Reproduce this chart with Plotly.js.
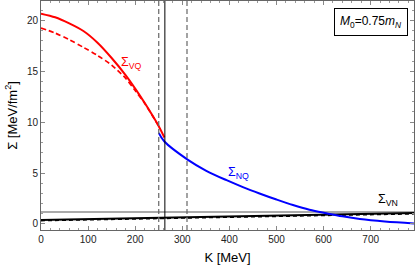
<!DOCTYPE html>
<html>
<head>
<meta charset="utf-8">
<script src="https://cdn.plot.ly/plotly-3.0.1.min.js"></script>
<style>html,body{margin:0;padding:0;background:#fff;}#chart{width:415px;height:271px;}</style>
</head>
<body>
<div id="chart"></div>
<script>
// Σ_VQ solid (red)
const kVQ = [0, 30, 60, 90, 120, 150, 180, 200, 220, 240, 250, 262];
const sVQ = [20.66, 20.3, 19.7, 18.95, 17.8, 16.3, 14.6, 13.3, 11.9, 10.4, 9.6, 8.5];
// Σ_VQ dashed (red)
const kVQd = [0, 30, 60, 90, 120, 150, 180, 200, 220, 235, 250];
const sVQd = [19.25, 18.75, 18.1, 17.35, 16.55, 15.6, 14.3, 13.1, 11.85, 10.75, 9.6];
// Σ_NQ (blue)
const kNQ = [250, 262, 312, 350, 394, 430, 464, 500, 535, 570, 606, 640, 677, 730, 792];
const sNQ = [8.95, 8.1, 6.3, 5.25, 4.3, 3.6, 3.0, 2.4, 1.86, 1.4, 1.05, 0.75, 0.49, 0.25, 0.06];
// Σ_VN (black solid / dashed), reference level (grey)
const kVN = [0, 792];
const sVN = [0.39, 1.08];
const sVNd = [0.33, 1.0];
const sRef = [1.17, 1.17];
// vertical markers
const kDashed = [250, 310];
const kSolid = [263];
// labels
const labelText = ["Σ<sub>VQ</sub>", "Σ<sub>NQ</sub>", "Σ<sub>VN</sub>"];
const labelK = [192, 420, 737];
const labelS = [15.8, 5.0, 2.35];
const labelColor = ["#ff0000", "#0000ff", "#000000"];
const boxText = "<i>M</i><sub>0</sub>=0.75<i>m</i><sub><i>N</i></sub>";

const traces = [
  {x: kVN, y: sRef, mode: "lines", line: {color: "#aaaaaa", width: 2}},
  {x: kVN, y: sVNd, mode: "lines", line: {color: "#000000", width: 1.6, dash: "4px,3px"}},
  {x: kVN, y: sVN, mode: "lines", line: {color: "#000000", width: 1.8}},
  {x: kVQd, y: sVQd, mode: "lines", line: {color: "#ff0000", width: 1.7, dash: "5px,3px", shape: "spline", smoothing: 0.8}},
  {x: kVQ, y: sVQ, mode: "lines", line: {color: "#ff0000", width: 2, shape: "spline", smoothing: 0.8}},
  {x: kNQ, y: sNQ, mode: "lines", line: {color: "#0000ff", width: 2, shape: "spline"}}
];

const shapes = [];
kDashed.forEach(k => shapes.push({type: "line", xref: "x", yref: "paper", x0: k, x1: k, y0: 0, y1: 1,
  line: {color: "#666666", width: 1.2, dash: "5px,3px"}}));
kSolid.forEach(k => shapes.push({type: "line", xref: "x", yref: "paper", x0: k, x1: k, y0: 0, y1: 1,
  line: {color: "#000000", width: 1}}));

const annotations = labelText.map((t, i) => ({x: labelK[i], y: labelS[i], xref: "x", yref: "y", text: t,
  showarrow: false, font: {family: "Liberation Sans, Arial", size: 12.5, color: labelColor[i]}}));
annotations.push({x: 0.983, y: 0.97, xref: "paper", yref: "paper", xanchor: "right", yanchor: "top",
  text: boxText, showarrow: false, bordercolor: "#000", borderwidth: 1, borderpad: 5, bgcolor: "#fff",
  font: {family: "Liberation Sans, Arial", size: 12, color: "#000"}});

const tickFont = {family: "Liberation Sans, Arial", size: 10, color: "#222"};
const layout = {
  width: 415, height: 271,
  margin: {l: 41, r: 1, t: 1, b: 41},
  paper_bgcolor: "#fff", plot_bgcolor: "#fff",
  showlegend: false,
  xaxis: {range: [0, 792], tickvals: [0,100,200,300,400,500,600,700], ticks: "inside", ticklen: 4,
    tickcolor: "#888", mirror: "allticks", showline: true, linecolor: "#666", linewidth: 1,
    showgrid: false, zeroline: false, tickfont: tickFont,
    minor: {dtick: 20, tick0: 0, ticks: "inside", ticklen: 2, tickcolor: "#999"},
    title: {text: "K [MeV]", font: {family: "Liberation Sans, Arial", size: 13, color: "#000"}, standoff: 8}},
  yaxis: {range: [-0.59, 21.9], tickvals: [0,5,10,15,20], ticks: "inside", ticklen: 4,
    tickcolor: "#888", mirror: "allticks", showline: true, linecolor: "#666", linewidth: 1,
    showgrid: false, zeroline: false, tickfont: tickFont,
    minor: {dtick: 1, tick0: 0, ticks: "inside", ticklen: 2, tickcolor: "#999"},
    title: {text: "Σ [MeV/fm<sup>2</sup>]", font: {family: "Liberation Sans, Arial", size: 13, color: "#000"}, standoff: 6}},
  shapes: shapes,
  annotations: annotations
};
Plotly.newPlot("chart", traces, layout, {staticPlot: true, displayModeBar: false});
</script>
</body>
</html>
